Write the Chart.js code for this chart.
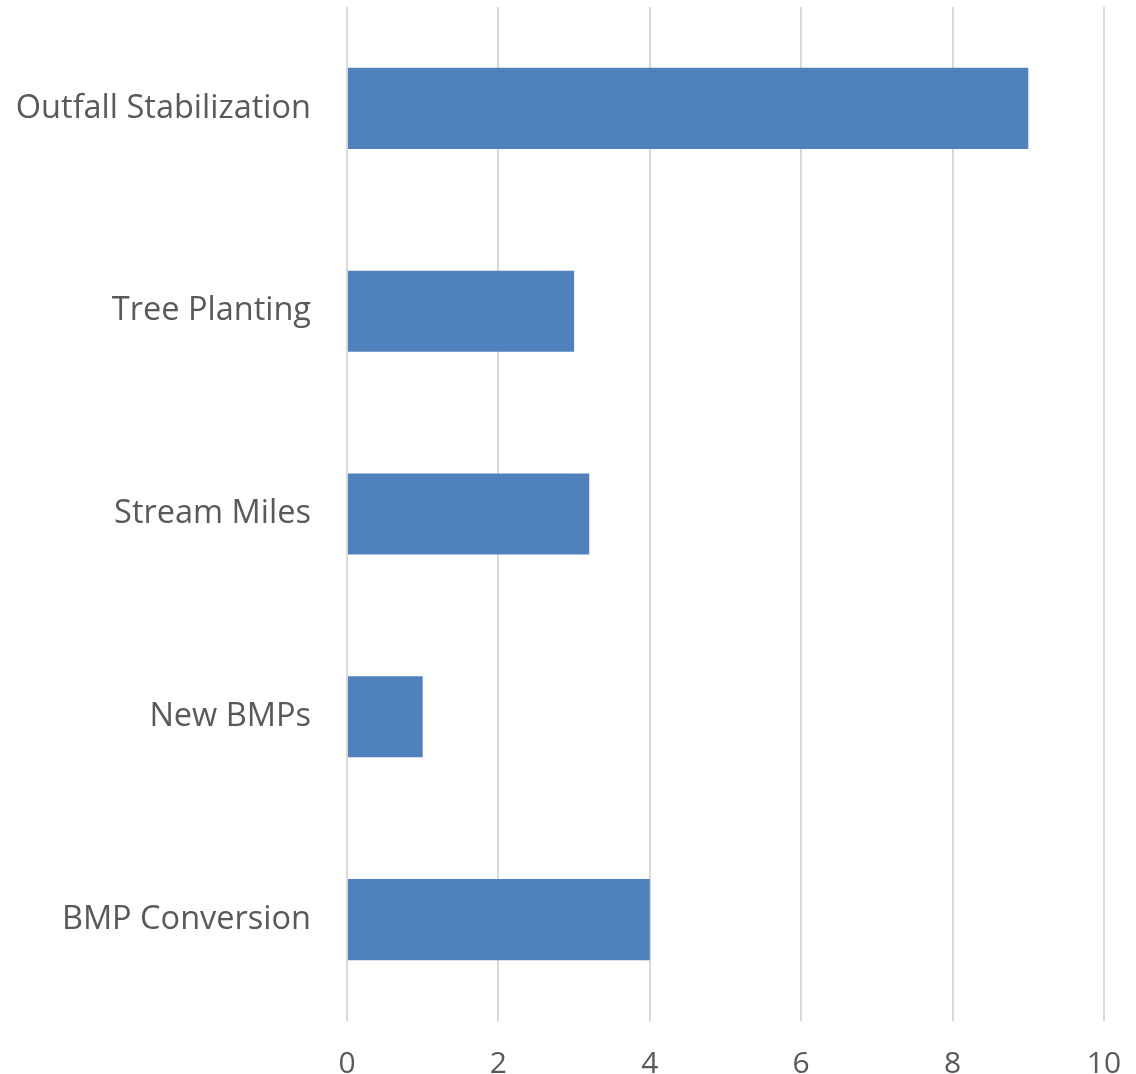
<!DOCTYPE html>
<html>
<head>
<meta charset="utf-8">
<script src="https://cdn.jsdelivr.net/npm/chart.js@4/dist/chart.umd.min.js"></script>
<style>
  html, body { margin: 0; padding: 0; background: #fff; }
  #wrap { width: 1136px; height: 1074px; }
</style>
</head>
<body>
<div id="wrap"><canvas id="myChart"></canvas></div>
<script>
var categories = ["Outfall Stabilization", "Tree Planting", "Stream Miles", "New BMPs", "BMP Conversion"];
var values = [9, 3, 3.2, 1, 4];
var xTicks = [0, 2, 4, 6, 8, 10];

var chrt = document.getElementById("myChart").getContext("2d");
var chartId = new Chart(chrt, {
   type: 'bar',
   data: {
      labels: categories,
      datasets: [{
         data: values,
         backgroundColor: '#4F81BD',
         borderWidth: 0,
         categoryPercentage: 1,
         barPercentage: 0.4
      }]
   },
   options: {
      indexAxis: 'y',
      responsive: true,
      maintainAspectRatio: false,
      animation: false,
      layout: { padding: { top: 7, right: 32, left: 0, bottom: 0 } },
      plugins: { legend: { display: false }, tooltip: { enabled: false } },
      scales: {
         x: {
            min: xTicks[0],
            max: xTicks[xTicks.length - 1],
            afterBuildTicks: function (scale) {
               scale.ticks = xTicks.map(function (v) { return { value: v }; });
            },
            afterFit: function (scale) {
               scale.height = 53;
               scale.paddingLeft = 0;
               scale.paddingRight = 0;
            },
            grid: { color: '#d9d9d9', lineWidth: 2, drawTicks: false },
            border: { display: false },
            ticks: {
               color: '#595959',
               padding: 25,
               font: { family: 'Open Sans', size: 30 }
            }
         },
         y: {
            afterFit: function (scale) {
               scale.width = 347;
               scale.paddingTop = 0;
               scale.paddingBottom = 0;
            },
            grid: { display: false, drawTicks: false },
            border: { display: false },
            ticks: {
               color: '#595959',
               padding: 36,
               font: { family: 'Open Sans', size: 32.5 }
            }
         }
      }
   }
});
</script>
</body>
</html>
